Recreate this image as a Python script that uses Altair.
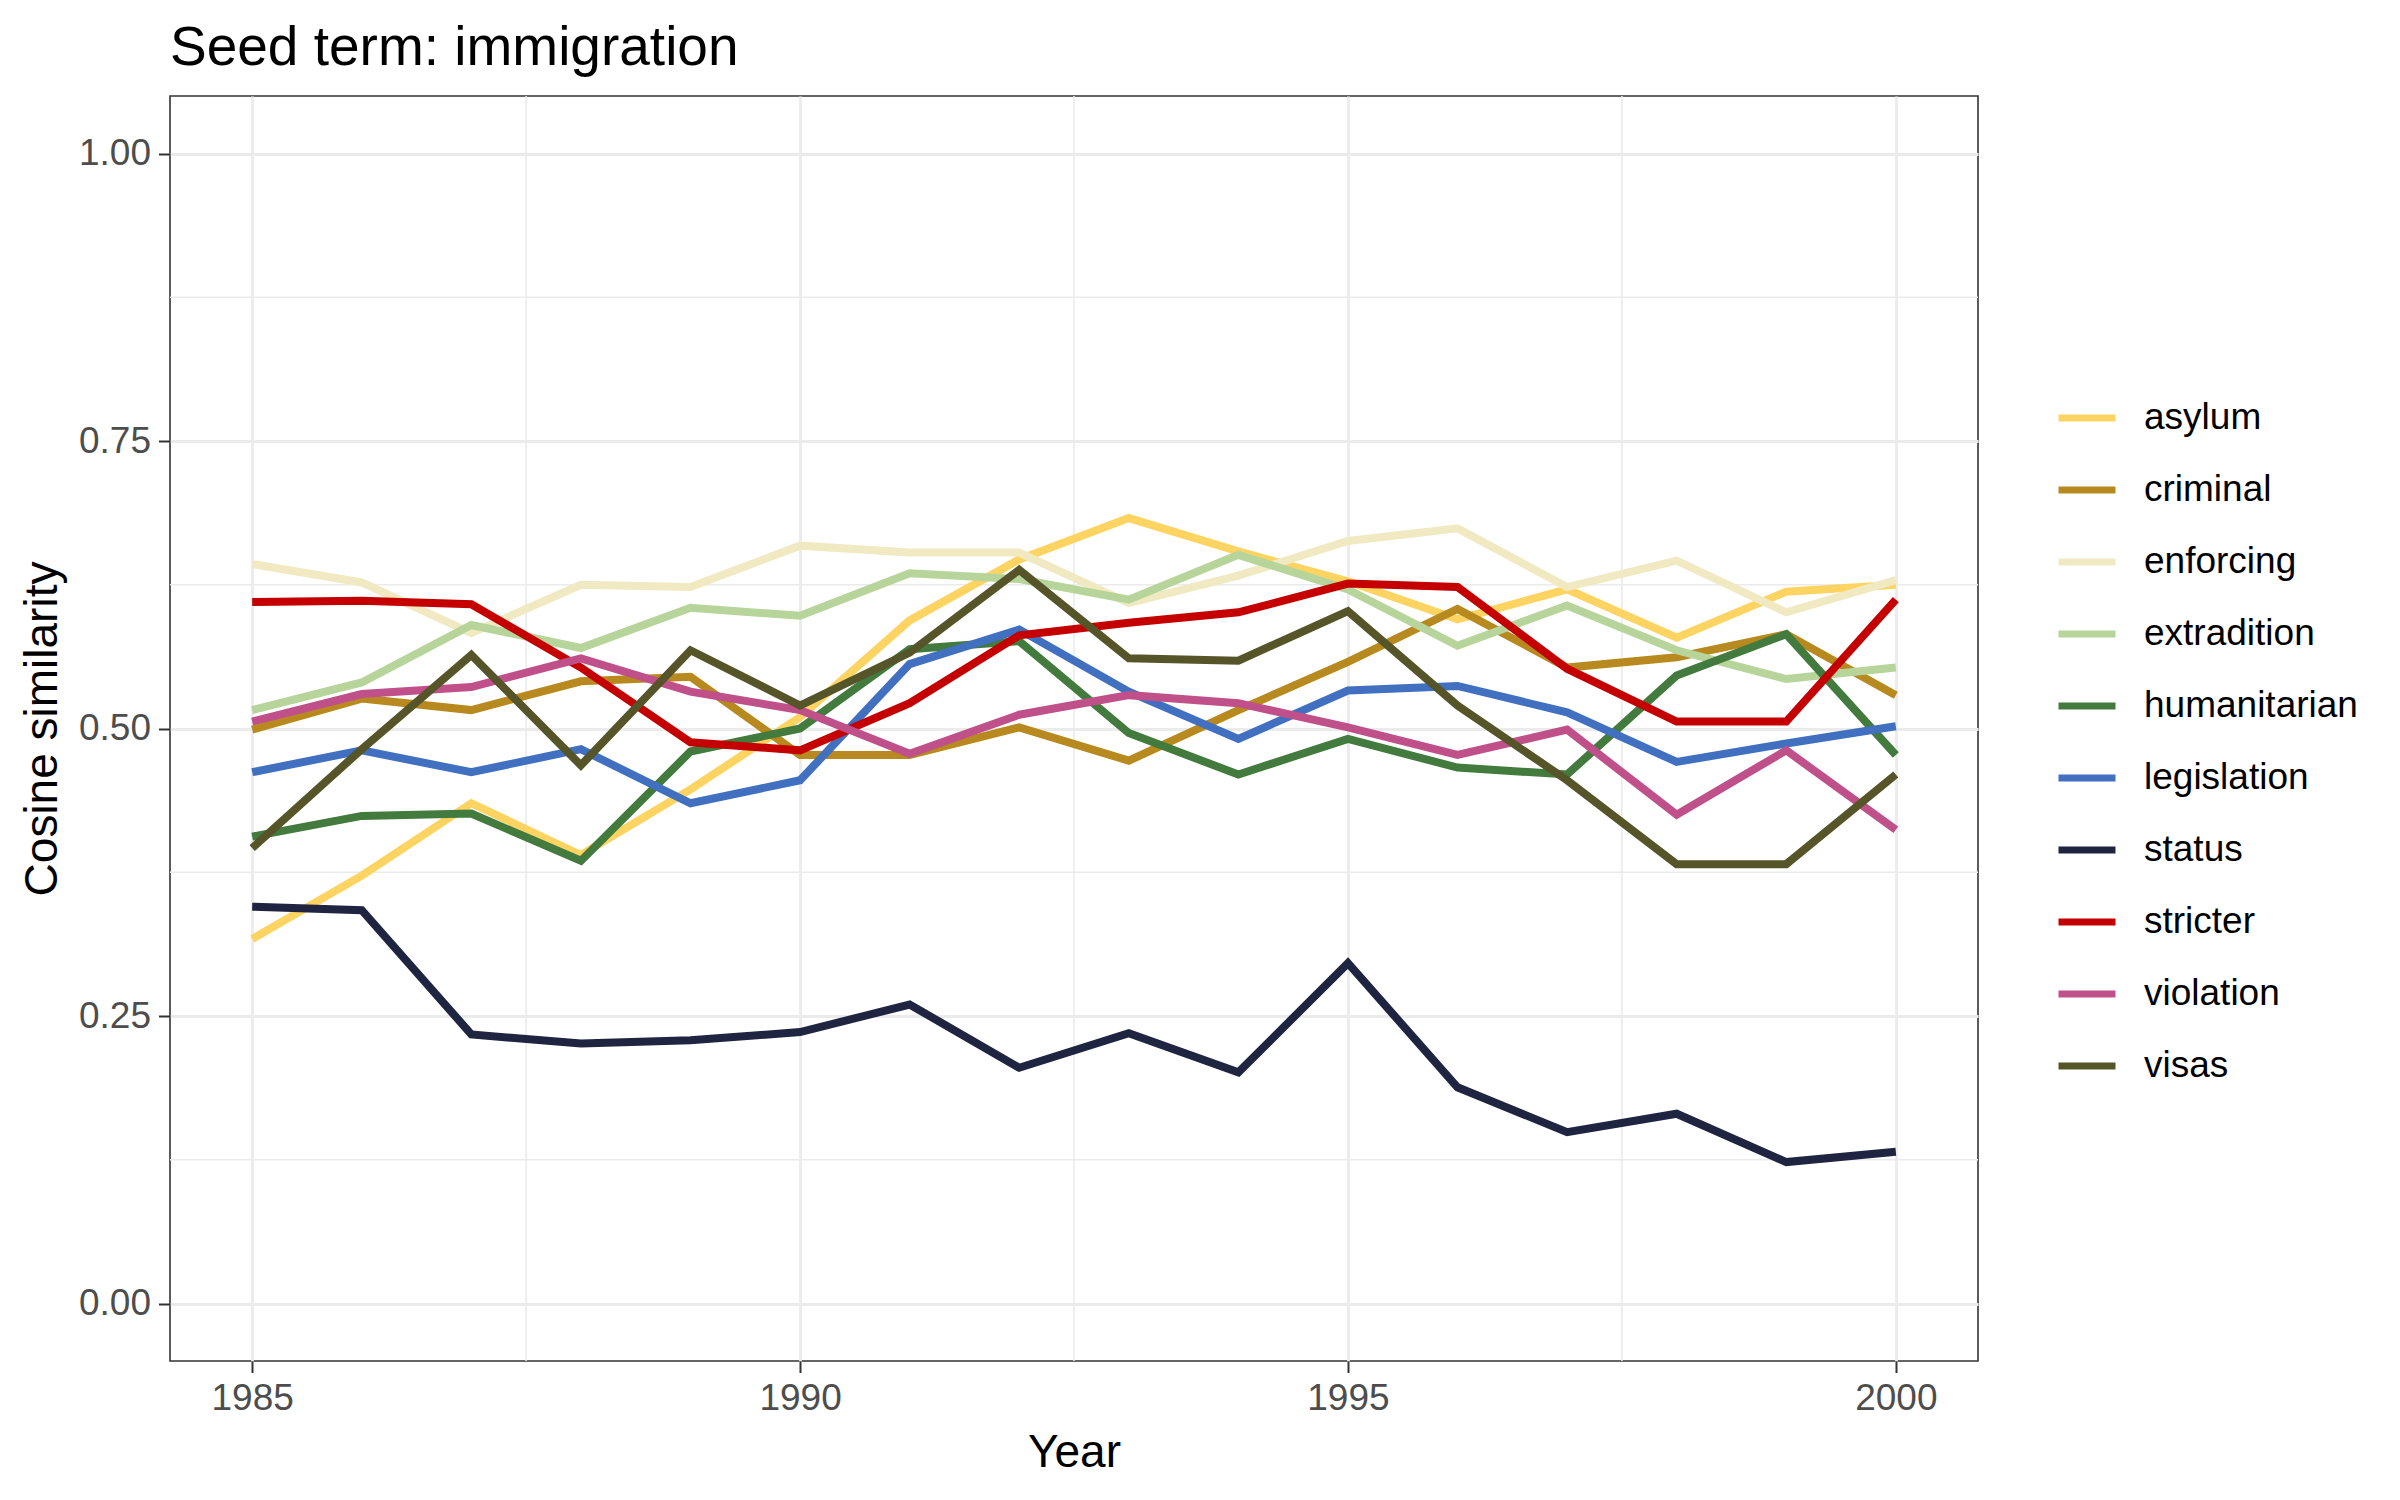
import altair as alt
import pandas as pd

# Cosine similarity of each term to the seed term "immigration", 1985-2000
years = list(range(1985, 2001))

terms = ["asylum", "criminal", "enforcing", "extradition", "humanitarian",
         "legislation", "status", "stricter", "violation", "visas"]

asylum = [0.317, 0.372, 0.435, 0.390, 0.447, 0.510, 0.594, 0.647,
          0.683, 0.654, 0.628, 0.595, 0.621, 0.579, 0.619, 0.625]
criminal = [0.499, 0.526, 0.516, 0.541, 0.545, 0.477, 0.477, 0.501,
            0.472, 0.516, 0.558, 0.604, 0.553, 0.562, 0.582, 0.529]
enforcing = [0.643, 0.627, 0.583, 0.625, 0.623, 0.659, 0.653, 0.653,
             0.609, 0.633, 0.663, 0.674, 0.623, 0.646, 0.601, 0.629]
extradition = [0.516, 0.540, 0.590, 0.570, 0.605, 0.598, 0.635, 0.630,
               0.612, 0.651, 0.621, 0.572, 0.607, 0.568, 0.543, 0.553]
humanitarian = [0.406, 0.424, 0.426, 0.385, 0.480, 0.500, 0.569, 0.576,
                0.496, 0.460, 0.491, 0.466, 0.460, 0.546, 0.582, 0.477]
legislation = [0.462, 0.481, 0.462, 0.482, 0.435, 0.455, 0.556, 0.586,
               0.532, 0.491, 0.533, 0.537, 0.514, 0.471, 0.487, 0.502]
status = [0.345, 0.342, 0.234, 0.226, 0.229, 0.236, 0.260, 0.205,
          0.235, 0.201, 0.296, 0.188, 0.149, 0.165, 0.123, 0.132]
stricter = [0.610, 0.611, 0.608, 0.553, 0.488, 0.481, 0.522, 0.581,
            0.592, 0.601, 0.626, 0.623, 0.552, 0.506, 0.506, 0.612]
violation = [0.506, 0.530, 0.536, 0.561, 0.532, 0.516, 0.478, 0.512,
             0.529, 0.522, 0.501, 0.477, 0.499, 0.425, 0.481, 0.412]
visas = [0.396, 0.482, 0.564, 0.468, 0.568, 0.520, 0.566, 0.638,
         0.561, 0.559, 0.602, 0.520, 0.455, 0.382, 0.382, 0.460]

series = [asylum, criminal, enforcing, extradition, humanitarian,
          legislation, status, stricter, violation, visas]

colors = ["#FDD462", "#B8891E", "#F0E9C2", "#B7D59A", "#437A3D",
          "#4070BF", "#1F2441", "#C40000", "#C0508A", "#56552A"]

# axis breaks (major) and the in-between minor grid positions
x_major = [1985, 1990, 1995, 2000]
x_minor = [1987.5, 1992.5, 1997.5]
y_major = [0.0, 0.25, 0.5, 0.75, 1.0]
y_minor = [0.125, 0.375, 0.625, 0.875]

rows = []
for term, vals in zip(terms, series):
    for yr, v in zip(years, vals):
        rows.append({"Year": yr, "term": term, "similarity": v})
df = pd.DataFrame(rows)

FONT = "Liberation Sans"
GRID = "#EBEBEB"

x_scale = alt.Scale(domain=[1984.25, 2000.75], nice=False, zero=False)
y_scale = alt.Scale(domain=[-0.05, 1.05], nice=False, zero=False)

axis_style = dict(
    grid=True, gridColor=GRID, gridWidth=2.8,
    domain=False, tickSize=11.5, tickColor="#333333", tickWidth=2,
    labelFont=FONT, labelFontSize=37, labelColor="#4D4D4D", labelPadding=8,
    titleFont=FONT, titleFontSize=46, titleFontWeight="normal",
    titleColor="black",
)
x_axis = alt.Axis(values=x_major, format="d", title="Year",
                  titlePadding=14, **axis_style)
y_axis = alt.Axis(values=y_major, format=".2f", title="Cosine similarity",
                  titlePadding=12, **axis_style)

minor_x = alt.Chart(pd.DataFrame({"v": x_minor})).mark_rule(
    color=GRID, strokeWidth=1.6
).encode(x=alt.X("v:Q", scale=x_scale, axis=x_axis))

minor_y = alt.Chart(pd.DataFrame({"v": y_minor})).mark_rule(
    color=GRID, strokeWidth=1.6
).encode(y=alt.Y("v:Q", scale=y_scale, axis=y_axis))

lines = alt.Chart(df).mark_line(strokeWidth=8, strokeJoin="miter", strokeCap="butt").encode(
    x=alt.X("Year:Q", scale=x_scale, axis=x_axis),
    y=alt.Y("similarity:Q", scale=y_scale, axis=y_axis),
    color=alt.Color(
        "term:N",
        scale=alt.Scale(domain=terms, range=colors),
        sort=terms,
        legend=alt.Legend(
            title=None, orient="none", legendX=1885, legendY=302,
            padding=0, symbolType="stroke", symbolSize=3249,
            symbolStrokeWidth=7, clipHeight=40, rowPadding=32,
            labelFont=FONT, labelFontSize=37, labelColor="black",
            labelOffset=25, labelLimit=500,
        ),
    ),
)

chart = alt.layer(minor_x, minor_y, lines).properties(
    width=1808,
    height=1265,
    background="white",
    autosize=alt.AutoSizeParams(type="none"),
    padding={"left": 170, "top": 96, "right": 422, "bottom": 139},
    title=alt.Title(
        "Seed term: immigration", anchor="start", frame="group", font=FONT,
        fontSize=55, fontWeight="normal", color="black", offset=18,
    ),
).configure_view(stroke="#333333", strokeWidth=1.6)

chart.save("out.html", embed_options={"renderer": "svg", "actions": False})
